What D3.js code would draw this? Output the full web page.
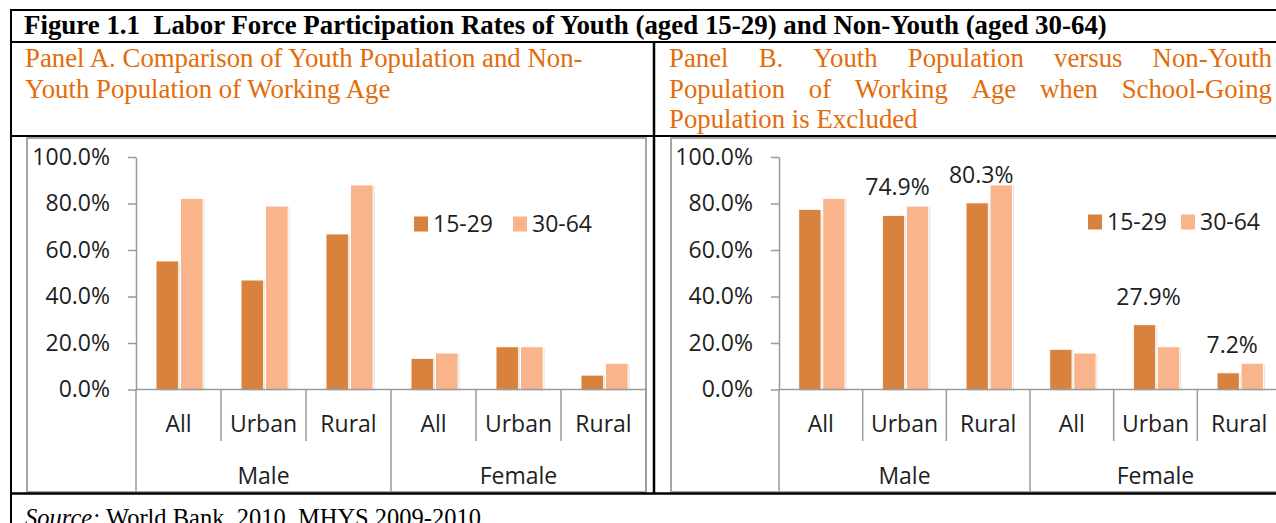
<!DOCTYPE html>
<html>
<head>
<meta charset="utf-8">
<script src="https://cdn.jsdelivr.net/npm/d3@7"></script>
<style>
  body { margin: 0; background: #fff; }
  svg { display: block; }
</style>
</head>
<body>
<svg id="fig" width="1276" height="523"></svg>
<script>
// data
const subCats = ["All", "Urban", "Rural", "All", "Urban", "Rural"];
const groups = ["Male", "Female"];
const series = ["15-29", "30-64"];
const yTicks = [0, 20, 40, 60, 80, 100];
const youthA = [55.3, 47.1, 66.9, 13.4, 18.4, 6.2];
const nonYouth = [82.2, 78.9, 88.0, 15.7, 18.4, 11.3];
const youthB = [77.5, 74.9, 80.3, 17.3, 27.9, 7.2];
const labelledB = [1, 2, 4, 5]; // youth bars with a value label in panel B

const W = 1276, H = 523;
const DARK = "#d9823d", LIGHT = "#f9b48c", ORANGE = "#e36c0a";
const TXT = "#1e1e1e";
const SANS = "Open Sans, sans-serif";
const serif = "Liberation Serif, Times New Roman, serif";
const svg = d3.select("#fig");

// ---- table around the two charts ----
function line(x1, y1, x2, y2, w) {
  svg.append("line")
    .attr("x1", x1).attr("y1", y1).attr("x2", x2).attr("y2", y2)
    .attr("stroke", "#000").attr("stroke-width", w || 2);
}

svg.append("text")
  .attr("x", 24).attr("y", 34)
  .attr("font-family", serif)
  .attr("font-weight", "bold").attr("font-size", 26.9).attr("fill", "#000")
  .attr("xml:space", "preserve")
  .text("Figure 1.1  Labor Force Participation Rates of Youth (aged 15-29) and Non-Youth (aged 30-64)");

svg.append("text").attr("x", 25).attr("y", 67)
  .attr("font-family", serif).attr("font-size", 26.8).attr("fill", ORANGE)
  .text("Panel A. Comparison of Youth Population and Non-");
svg.append("text").attr("x", 25).attr("y", 98)
  .attr("font-family", serif).attr("font-size", 26.8).attr("fill", ORANGE)
  .text("Youth Population of Working Age");

// justified lines of the panel B heading
function justify(words, x, y, width) {
  var g = svg.append("g");
  var nodes = words.map(w => g.append("text").attr("y", y)
    .attr("font-family", serif).attr("font-size", 26.8).attr("fill", ORANGE).text(w));
  var lens = nodes.map(n => n.node().getComputedTextLength());
  var gap = (width - d3.sum(lens)) / (words.length - 1);
  var cx = x;
  nodes.forEach((n, i) => { n.attr("x", cx); cx += lens[i] + gap; });
}
justify(["Panel", "B.", "Youth", "Population", "versus", "Non-Youth"], 669, 67, 603);
justify(["Population", "of", "Working", "Age", "when", "School-Going"], 669, 98, 603);
svg.append("text").attr("x", 669).attr("y", 128)
  .attr("font-family", serif).attr("font-size", 26.8).attr("fill", ORANGE)
  .text("Population is Excluded");

var src = svg.append("text").attr("x", 25).attr("y", 526)
  .attr("font-family", serif).attr("font-size", 24.5).attr("fill", "#000");
src.append("tspan").attr("font-style", "italic").text("Source:");
src.append("tspan").text(" World Bank, 2010, MHYS 2009-2010.");

// ---- one chart panel ----
function drawPanel(frameX0, frameX1, plotX0, plotX1, youth, labels) {
  var g = svg.append("g");
  g.append("rect")
    .attr("x", frameX0).attr("y", 138)
    .attr("width", frameX1 - frameX0).attr("height", 354)
    .attr("fill", "#fff").attr("stroke", "#a6a6a6").attr("stroke-width", 2);

  var y = d3.scaleLinear().domain([0, 100]).range([389.5, 157]);
  var x0 = d3.scaleBand().domain(d3.range(subCats.length)).range([plotX0, plotX1]).padding(0);
  var x1 = d3.scaleBand().domain(series)
    .range([x0.bandwidth() * 0.235, x0.bandwidth() * 0.79]).paddingInner(0.07);

  var yAxis = d3.axisLeft(y).tickValues(yTicks).tickSize(8).tickSizeOuter(0)
    .tickPadding(18).tickFormat(d => d.toFixed(1) + "%");
  var ya = g.append("g").attr("transform", "translate(" + plotX0 + ",0)").call(yAxis);
  ya.select(".domain").attr("stroke", "#9a9a9a").attr("stroke-width", 1.5);
  ya.selectAll(".tick line").attr("stroke", "#9a9a9a").attr("stroke-width", 1.5);
  ya.selectAll(".tick text").attr("font-family", SANS)
    .attr("font-size", 23).attr("fill", TXT);

  // bars
  var rows = subCats.map((c, i) => ({ i: i, vals: [youth[i], nonYouth[i]] }));
  var cat = g.selectAll("g.cat").data(rows).enter().append("g")
    .attr("class", "cat").attr("transform", d => "translate(" + x0(d.i) + ",0)");
  cat.selectAll("rect.shadow").data(d => d.vals.map((v, k) => ({ s: series[k], v: v })))
    .enter().append("rect")
    .attr("x", d => x1(d.s) + 1.5).attr("y", d => y(d.v) + 1)
    .attr("width", x1.bandwidth()).attr("height", d => y(0) - y(d.v))
    .attr("fill", "#000").attr("opacity", 0.12);
  cat.selectAll("rect.bar").data(d => d.vals.map((v, k) => ({ s: series[k], v: v })))
    .enter().append("rect").attr("class", "bar")
    .attr("x", d => x1(d.s)).attr("y", d => y(d.v))
    .attr("width", x1.bandwidth()).attr("height", d => y(0) - y(d.v))
    .attr("fill", d => d.s === series[0] ? DARK : LIGHT)
    .attr("stroke", "#fff").attr("stroke-width", 1);

  // value labels
  if (labels) {
    g.selectAll("text.val").data(labels).enter().append("text")
      .attr("x", i => x0(i) + x1(series[0]) + x1.bandwidth() / 2 + 4)
      .attr("y", i => y(youth[i]) - 20)
      .attr("text-anchor", "middle").attr("font-family", SANS)
      .attr("font-size", 23).attr("fill", TXT)
      .text(i => youth[i].toFixed(1) + "%");
  }

  // category axis with two levels
  var gray = "#9a9a9a";
  g.append("line").attr("x1", plotX0).attr("x2", plotX1).attr("y1", y(0)).attr("y2", y(0))
    .attr("stroke", gray).attr("stroke-width", 1.5);
  var edges = d3.range(subCats.length + 1);
  g.selectAll("line.sep").data(edges).enter().append("line")
    .attr("x1", i => i < subCats.length ? x0(i) : plotX1)
    .attr("x2", i => i < subCats.length ? x0(i) : plotX1)
    .attr("y1", y(0)).attr("y2", i => i % 3 === 0 ? 492 : 441)
    .attr("stroke", gray).attr("stroke-width", 1.5);
  g.selectAll("text.sub").data(subCats).enter().append("text")
    .attr("x", (d, i) => x0(i) + x0.bandwidth() / 2).attr("y", 432)
    .attr("text-anchor", "middle").attr("font-family", SANS)
    .attr("font-size", 23).attr("fill", TXT).text(d => d);
  g.selectAll("text.grp").data(groups).enter().append("text")
    .attr("x", (d, i) => (x0(i * 3) + (i === 0 ? x0(3) : plotX1)) / 2).attr("y", 484)
    .attr("text-anchor", "middle").attr("font-family", SANS)
    .attr("font-size", 23).attr("fill", TXT).text(d => d);
}

drawPanel(27, 646, 136, 646, youthA, null);
drawPanel(671, 1290, 779, 1281, youthB, labelledB);

// legends
function legend(x, yc, gapX) {
  var lg = svg.append("g");
  series.forEach((s, k) => {
    var lx = x + k * gapX;
    lg.append("rect").attr("x", lx).attr("y", yc - 7.5).attr("width", 14).attr("height", 15)
      .attr("fill", k === 0 ? DARK : LIGHT);
    lg.append("text").attr("x", lx + 19).attr("y", yc + 8)
      .attr("font-family", SANS).attr("font-size", 23)
      .attr("fill", TXT).text(s);
  });
}
legend(414, 224, 99);
legend(1088, 222, 93);

// table rules on top
line(11, 9, 11, H, 2);
line(10, 10, W, 10, 2);
line(10, 42, W, 42, 2);
line(10, 136, W, 136, 2);
line(10, 493.5, W, 493.5, 2.5);
line(654, 42, 654, 493, 2.5);
</script>
</body>
</html>
